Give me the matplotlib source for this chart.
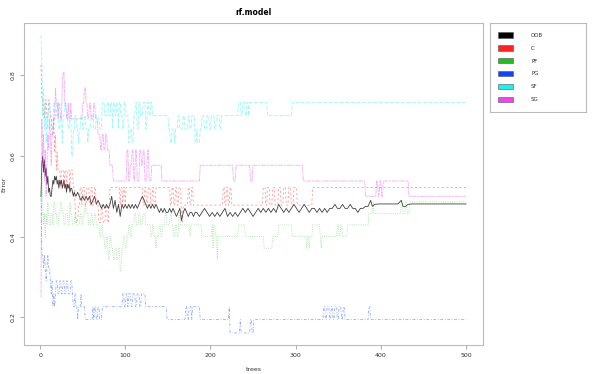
import numpy as np
import matplotlib
matplotlib.use("Agg")
import matplotlib.pyplot as plt
from matplotlib.patches import Patch

plt.rcParams['lines.scale_dashes'] = False

# error rates per number of trees
# class series are kept as run-lengths: tree where a level starts, and the level
oob_tree = [1, 2, 3, 4, 5, 6, 7, 8, 9, 10, 11, 12, 13, 14, 15, 16, 17, 18, 19, 20,
            21, 22, 23, 24, 25, 26, 27, 28, 29, 30, 31, 32, 33, 34, 35, 36, 37, 38, 39, 40,
            42, 44, 46, 48, 50, 52, 54, 56, 58, 60, 62, 64, 66, 68, 70, 72, 74, 76, 78, 80,
            82, 84, 86, 88, 90, 92, 94, 96, 98, 100, 102, 104, 106, 108, 110, 112, 114, 116, 118, 120,
            122, 124, 126, 128, 130, 132, 134, 136, 138, 140, 142, 144, 146, 148, 150, 152, 154, 156, 158, 160,
            162, 164, 166, 168, 170, 172, 174, 176, 178, 180, 182, 184, 187, 190, 193, 196, 199, 202, 205, 208,
            211, 214, 217, 220, 223, 226, 229, 232, 235, 238, 241, 244, 247, 250, 253, 256, 259, 262, 265, 268,
            271, 274, 277, 280, 283, 286, 289, 292, 295, 298, 301, 304, 307, 310, 313, 316, 319, 322, 325, 328,
            331, 334, 337, 340, 343, 346, 349, 352, 355, 358, 361, 364, 367, 370, 373, 376, 379, 382, 385, 388,
            390, 393, 398, 420, 424, 426, 429, 432, 437, 500]
oob_err = [0.50, 0.58, 0.60, 0.56, 0.59, 0.55, 0.57, 0.53, 0.55, 0.51, 0.52, 0.50, 0.50, 0.52, 0.54, 0.53, 0.55, 0.54, 0.55, 0.53,
           0.54, 0.52, 0.54, 0.53, 0.54, 0.52, 0.53, 0.54, 0.52, 0.53, 0.51, 0.53, 0.52, 0.53, 0.51, 0.52, 0.52, 0.51, 0.50, 0.51,
           0.50, 0.51, 0.50, 0.49, 0.50, 0.49, 0.50, 0.49, 0.50, 0.48, 0.49, 0.50, 0.48, 0.49, 0.48, 0.47, 0.48, 0.47, 0.48, 0.47,
           0.48, 0.50, 0.47, 0.49, 0.46, 0.48, 0.45, 0.48, 0.47, 0.48, 0.47, 0.48, 0.47, 0.48, 0.47, 0.48, 0.47, 0.48, 0.49, 0.50,
           0.49, 0.48, 0.47, 0.48, 0.47, 0.48, 0.47, 0.48, 0.47, 0.46, 0.47, 0.46, 0.47, 0.46, 0.46, 0.47, 0.46, 0.47, 0.46, 0.45,
           0.46, 0.47, 0.44, 0.46, 0.47, 0.46, 0.45, 0.46, 0.46, 0.45, 0.46, 0.46, 0.45, 0.46, 0.47, 0.46, 0.45, 0.46, 0.45, 0.46,
           0.45, 0.46, 0.47, 0.45, 0.46, 0.45, 0.46, 0.45, 0.46, 0.47, 0.46, 0.47, 0.46, 0.45, 0.46, 0.47, 0.46, 0.47, 0.46, 0.47,
           0.46, 0.47, 0.46, 0.48, 0.47, 0.46, 0.47, 0.46, 0.47, 0.48, 0.47, 0.46, 0.47, 0.48, 0.47, 0.46, 0.47, 0.47, 0.46, 0.47,
           0.46, 0.47, 0.46, 0.47, 0.47, 0.48, 0.47, 0.47, 0.48, 0.47, 0.47, 0.48, 0.47, 0.47, 0.46, 0.47, 0.47, 0.475, 0.475, 0.49,
           0.475, 0.48, 0.481, 0.481, 0.49, 0.475, 0.475, 0.48, 0.481, 0.481]

c_start = [1, 2, 4, 6, 8, 10, 12, 14, 16, 17, 18, 19, 20, 21, 24, 25, 28, 29, 31, 32,
           35, 36, 39, 41, 42, 45, 47, 49, 50, 53, 55, 58, 60, 62, 64, 66, 69, 72, 74, 77,
           79, 81, 82, 94, 95, 97, 98, 100, 101, 121, 123, 125, 127, 130, 132, 134, 136, 153, 155, 157,
           159, 161, 163, 166, 168, 172, 174, 176, 178, 180, 215, 217, 219, 221, 223, 225, 262, 265, 267, 270,
           273, 276, 280, 283, 286, 289, 292, 295, 298, 302, 320]
c_err = [0.826, 0.739, 0.696, 0.739, 0.696, 0.739, 0.696, 0.652, 0.696, 0.609, 0.652, 0.565, 0.609, 0.565, 0.522, 0.565, 0.522, 0.565, 0.522, 0.565,
         0.522, 0.565, 0.522, 0.478, 0.435, 0.478, 0.522, 0.478, 0.522, 0.478, 0.522, 0.478, 0.522, 0.478, 0.522, 0.478, 0.435, 0.478, 0.435, 0.478,
         0.435, 0.478, 0.522, 0.478, 0.522, 0.478, 0.522, 0.478, 0.522, 0.478, 0.522, 0.478, 0.522, 0.478, 0.522, 0.478, 0.522, 0.478, 0.522, 0.478,
         0.522, 0.478, 0.522, 0.435, 0.478, 0.478, 0.522, 0.478, 0.522, 0.478, 0.522, 0.478, 0.522, 0.478, 0.522, 0.478, 0.522, 0.478, 0.522, 0.478,
         0.522, 0.478, 0.522, 0.478, 0.522, 0.478, 0.522, 0.478, 0.522, 0.478, 0.522]

pf_start = [1, 2, 3, 4, 5, 6, 7, 8, 9, 10, 11, 13, 15, 16, 18, 20, 22, 24, 26, 28,
            30, 33, 35, 36, 38, 41, 43, 47, 49, 51, 53, 54, 57, 60, 62, 64, 66, 70, 72, 74,
            76, 78, 80, 82, 84, 86, 88, 90, 92, 94, 96, 98, 100, 102, 104, 106, 108, 111, 113, 116,
            118, 121, 124, 130, 132, 134, 136, 137, 140, 142, 144, 147, 149, 153, 155, 157, 159, 161, 163, 165,
            176, 177, 190, 202, 203, 204, 206, 208, 209, 233, 241, 263, 273, 280, 296, 313, 314, 316, 317, 320,
            329, 330, 331, 349, 351, 353, 355, 361, 386, 391, 392, 424, 426, 429, 431, 434]
pf_err = [0.543, 0.571, 0.486, 0.429, 0.457, 0.400, 0.457, 0.429, 0.486, 0.457, 0.429, 0.457, 0.429, 0.486, 0.457, 0.429, 0.457, 0.486, 0.457, 0.429,
          0.457, 0.429, 0.486, 0.457, 0.429, 0.457, 0.429, 0.457, 0.429, 0.457, 0.486, 0.457, 0.429, 0.457, 0.429, 0.457, 0.429, 0.400, 0.429, 0.400,
          0.371, 0.400, 0.343, 0.400, 0.371, 0.343, 0.371, 0.343, 0.371, 0.314, 0.371, 0.400, 0.371, 0.400, 0.429, 0.400, 0.429, 0.457, 0.429, 0.457,
          0.429, 0.457, 0.429, 0.400, 0.429, 0.400, 0.371, 0.400, 0.429, 0.400, 0.429, 0.457, 0.429, 0.457, 0.429, 0.400, 0.429, 0.400, 0.457, 0.429,
          0.400, 0.429, 0.400, 0.429, 0.371, 0.429, 0.400, 0.343, 0.400, 0.429, 0.400, 0.371, 0.400, 0.429, 0.400, 0.371, 0.400, 0.371, 0.400, 0.429,
          0.400, 0.371, 0.400, 0.429, 0.400, 0.429, 0.400, 0.429, 0.457, 0.486, 0.457, 0.486, 0.457, 0.486, 0.457, 0.486]

pg_start = [1, 2, 4, 5, 6, 7, 8, 9, 10, 12, 13, 14, 15, 16, 17, 18, 19, 21, 23, 25,
            27, 29, 31, 33, 36, 38, 39, 41, 42, 44, 45, 48, 49, 53, 62, 63, 64, 66, 68, 70,
            73, 97, 99, 101, 103, 104, 107, 109, 112, 114, 117, 119, 124, 149, 171, 173, 175, 178, 179, 188,
            222, 223, 235, 236, 247, 249, 251, 333, 335, 337, 340, 342, 344, 346, 349, 351, 354, 356, 358, 386,
            388]
pg_err = [0.500, 0.355, 0.323, 0.355, 0.323, 0.290, 0.323, 0.355, 0.323, 0.290, 0.258, 0.290, 0.226, 0.258, 0.226, 0.258, 0.290, 0.258, 0.290, 0.258,
          0.290, 0.258, 0.290, 0.258, 0.290, 0.258, 0.226, 0.258, 0.226, 0.194, 0.226, 0.258, 0.226, 0.194, 0.226, 0.194, 0.226, 0.194, 0.226, 0.194,
          0.226, 0.258, 0.226, 0.258, 0.226, 0.258, 0.226, 0.258, 0.226, 0.258, 0.226, 0.258, 0.226, 0.194, 0.226, 0.194, 0.226, 0.194, 0.226, 0.194,
          0.226, 0.161, 0.194, 0.161, 0.194, 0.161, 0.194, 0.226, 0.194, 0.226, 0.194, 0.226, 0.194, 0.226, 0.194, 0.226, 0.194, 0.226, 0.194, 0.226,
          0.194]

sf_start = [1, 2, 3, 4, 5, 6, 7, 8, 9, 10, 12, 14, 16, 18, 20, 22, 24, 26, 27, 29,
            31, 33, 35, 37, 39, 41, 43, 45, 46, 48, 50, 52, 54, 56, 57, 60, 63, 66, 70, 73,
            76, 79, 81, 83, 85, 86, 88, 90, 92, 93, 95, 97, 99, 101, 104, 106, 108, 110, 112, 114,
            116, 118, 121, 124, 126, 128, 130, 132, 151, 153, 155, 158, 159, 162, 164, 168, 170, 174, 176, 178,
            182, 184, 185, 188, 190, 193, 196, 199, 201, 205, 207, 211, 213, 233, 236, 238, 241, 243, 245, 246,
            267, 296]
sf_err = [0.900, 0.833, 0.700, 0.767, 0.667, 0.733, 0.633, 0.700, 0.667, 0.733, 0.700, 0.667, 0.733, 0.700, 0.733, 0.667, 0.700, 0.633, 0.700, 0.733,
          0.700, 0.667, 0.700, 0.600, 0.667, 0.700, 0.667, 0.633, 0.667, 0.700, 0.667, 0.700, 0.667, 0.633, 0.667, 0.700, 0.667, 0.700, 0.667, 0.733,
          0.700, 0.733, 0.700, 0.733, 0.667, 0.733, 0.700, 0.733, 0.667, 0.733, 0.700, 0.667, 0.733, 0.700, 0.633, 0.667, 0.633, 0.700, 0.733, 0.667,
          0.733, 0.700, 0.733, 0.667, 0.733, 0.700, 0.733, 0.700, 0.667, 0.633, 0.667, 0.633, 0.667, 0.700, 0.667, 0.700, 0.667, 0.700, 0.667, 0.700,
          0.633, 0.667, 0.633, 0.667, 0.700, 0.667, 0.700, 0.667, 0.700, 0.667, 0.700, 0.667, 0.700, 0.733, 0.700, 0.733, 0.700, 0.733, 0.700, 0.733,
          0.700, 0.733]

sg_start = [1, 2, 3, 4, 5, 6, 7, 8, 9, 10, 11, 12, 13, 14, 16, 18, 19, 21, 22, 24,
            26, 27, 29, 31, 33, 34, 36, 37, 50, 52, 54, 56, 58, 60, 63, 65, 68, 71, 73, 75,
            77, 79, 82, 86, 102, 104, 106, 108, 110, 112, 114, 117, 119, 121, 123, 126, 128, 131, 143, 188,
            227, 230, 247, 250, 309, 382, 395, 397, 399, 401, 403, 433]
sg_err = [0.250, 0.692, 0.577, 0.654, 0.538, 0.615, 0.500, 0.577, 0.654, 0.615, 0.692, 0.654, 0.577, 0.654, 0.692, 0.769, 0.731, 0.692, 0.731, 0.692,
          0.769, 0.808, 0.731, 0.692, 0.731, 0.692, 0.731, 0.692, 0.731, 0.769, 0.731, 0.692, 0.731, 0.692, 0.731, 0.692, 0.654, 0.615, 0.654, 0.615,
          0.654, 0.615, 0.577, 0.538, 0.615, 0.538, 0.577, 0.615, 0.538, 0.615, 0.538, 0.615, 0.577, 0.615, 0.538, 0.615, 0.538, 0.577, 0.538, 0.577,
          0.538, 0.577, 0.538, 0.577, 0.538, 0.500, 0.538, 0.500, 0.538, 0.500, 0.538, 0.500]

labels = ["OOB", "C", "PF", "PG", "SF", "SG"]
colors = ["black", "#ff2222", "#22bb22", "#1144ff", "#22eeee", "#ee44ee"]
n_trees = 500


def runs(start, err):
    lengths = np.diff(start + [n_trees + 1])
    return np.repeat(err, lengths)


trees = np.arange(1, n_trees + 1)
series = [runs(c_start, c_err), runs(pf_start, pf_err), runs(pg_start, pg_err),
          runs(sf_start, sf_err), runs(sg_start, sg_err)]
dashes = [(0, (1.6, 1.6)), (0, (0.6, 1.0)), (0, (0.6, 1.2, 2.0, 1.2)),
          (0, (2.8, 1.2)), (0, (1.5, 0.6, 3.5, 0.6))]

fig = plt.figure(figsize=(6, 3.74), dpi=100)
ax = fig.add_axes([24 / 600, 1 - 345 / 374, 459 / 600, 322 / 374])

ax.plot(oob_tree, oob_err, color=colors[0], lw=0.6, alpha=0.75)
for y, col, ls in zip(series, colors[1:], dashes):
    ax.plot(trees, y, color=col, lw=0.6, alpha=0.45, linestyle=ls)

ax.set_xlim(-18.96, 519.96)
ax.set_ylim(0.131, 0.930)
ax.set_xticks([0, 100, 200, 300, 400, 500])
ax.set_yticks([0.2, 0.4, 0.6, 0.8])
ax.set_yticklabels(["0.2", "0.4", "0.6", "0.8"], rotation=90, va="center")
ax.tick_params(labelsize=4.5, length=3, width=0.5, color="#888888",
               labelcolor="#333333", pad=3)
for sp in ax.spines.values():
    sp.set_color("#bbbbbb")
    sp.set_linewidth(0.8)

ax.set_title("rf.model", fontsize=5.5, fontweight="bold", pad=6)
ax.set_xlabel("trees", fontsize=4.5, labelpad=6, color="#333333")
ax.set_ylabel("Error", fontsize=4.5, color="#333333")
ax.yaxis.set_label_coords(-0.038, 0.5)

# legend sits in its own framed box to the right of the plot
lax = fig.add_axes([490 / 600, 1 - 112 / 374, 96 / 600, 89 / 374])
lax.set_xticks([])
lax.set_yticks([])
for sp in lax.spines.values():
    sp.set_color("#bbbbbb")
    sp.set_linewidth(0.8)
handles = [Patch(facecolor=c, edgecolor="#555555", linewidth=0.4) for c in colors]
leg = lax.legend(handles, labels, loc="upper left", bbox_to_anchor=(0.08, 0.90),
                 fontsize=4, handlelength=2.7, handleheight=1.2, labelspacing=1.3,
                 handletextpad=3.3, borderpad=0, borderaxespad=0, frameon=False)
for t in leg.get_texts():
    t.set_color("#333333")

fig.savefig("out.png", dpi=100, facecolor="white")
